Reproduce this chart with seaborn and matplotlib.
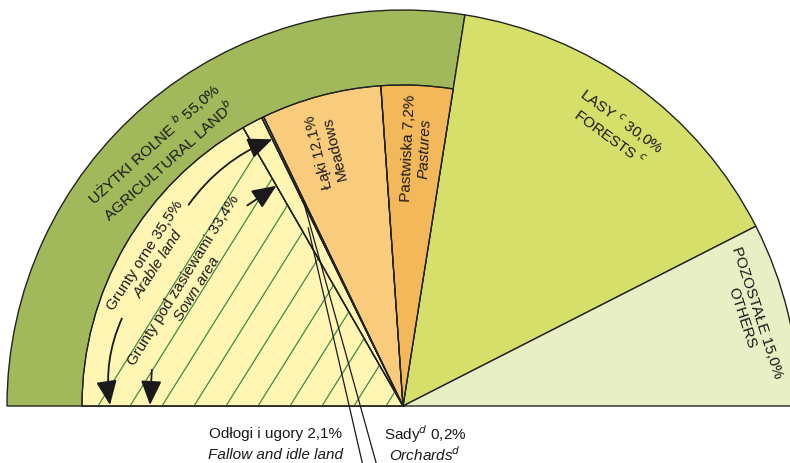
import matplotlib
matplotlib.use('Agg')
import matplotlib.pyplot as plt
import numpy as np
import seaborn as sns

# land use, % of total area (half-pie = 100%)
main_pl = ['UŻYTKI ROLNE', 'LASY', 'POZOSTAŁE']
main_en = ['AGRICULTURAL LAND', 'FORESTS', 'OTHERS']
main_notes = ['b', 'c', '']
main_values = [55.0, 30.0, 15.0]

# breakdown of agricultural land
agri_pl = ['Grunty pod zasiewami', 'Odłogi i ugory', 'Sady', 'Łąki', 'Pastwiska']
agri_en = ['Sown area', 'Fallow and idle land', 'Orchards', 'Meadows', 'Pastures']
agri_notes = ['', '', 'd', '', '']
agri_values = [33.4, 2.1, 0.2, 12.1, 7.2]
arable_pl = 'Grunty orne'
arable_en = 'Arable land'
arable_value = 35.5

main_colors = ['#a2b95b', '#d5df6a', '#e9efc4']
agri_colors = ['#fff6b4', '#fff6b4', '#fff6b4', '#f8cb7d', '#f2b859']

sns.set_style('white')
FONT = ['Liberation Sans Narrow', 'Liberation Sans', 'DejaVu Sans']
plt.rcParams['font.family'] = FONT
plt.rcParams['mathtext.fontset'] = 'custom'
plt.rcParams['mathtext.it'] = 'Liberation Sans Narrow:italic'
plt.rcParams['mathtext.rm'] = 'Liberation Sans Narrow'

R = 396
r = 321
fs = 11

def pct(v):
    return ('%.1f%%' % v).replace('.', ',')

def pol(ang, rad):
    a = np.radians(ang)
    return rad*np.cos(a), rad*np.sin(a)

fig = plt.figure(figsize=(7.9, 4.64), dpi=100)
ax = fig.add_axes([0, 0, 1, 1])

# outer half ring
w1, _ = ax.pie(main_values + [sum(main_values)], radius=R, startangle=180,
               counterclock=False, colors=main_colors + ['none'],
               wedgeprops=dict(edgecolor='#222222', linewidth=1.0))
w1[-1].set_visible(False)

# inner breakdown of agricultural land
rest = 2*sum(main_values) - sum(agri_values)
w2, _ = ax.pie(agri_values + [rest], radius=r, startangle=180,
               counterclock=False, colors=agri_colors + ['none'],
               wedgeprops=dict(edgecolor='#222222', linewidth=0.9))
w2[-1].set_visible(False)
for w in w1 + w2:
    w.set_zorder(1)

# hatching of the sown area
sown = w2[0]
tan = np.tan(np.radians(58))
for x0 in np.arange(-305, 0, 32):
    ln, = ax.plot([x0, x0 + R/tan], [0, R], color='#3d8c45', lw=0.9, zorder=2)
    ln.set_clip_path(sown)
# redraw edges above hatch
for w in w2[:-1]:
    ax.add_patch(matplotlib.patches.Wedge(w.center, w.r, w.theta1, w.theta2,
                 facecolor='none', edgecolor='#222222', lw=0.9, zorder=3))

ax.set_xlim(-403, 387)
ax.set_ylim(-57, 407)
ax.set_aspect('equal')
ax.axis('off')

tk = dict(fontsize=fs, color='#1a1a1a', ha='center', va='center',
          rotation_mode='anchor', multialignment='center', zorder=5)

def sup(n):
    return r'$^{%s}$' % n if n else ''

# outer labels
x, y = pol(133.5, 352)
ax.text(x, y, main_pl[0] + ' ' + sup(main_notes[0]) + ' ' + pct(main_values[0]) + '\n'
        + main_en[0] + sup(main_notes[0]), rotation=42, **tk)
x, y = pol(52.5, 350)
ax.text(x, y, main_pl[1] + ' ' + sup(main_notes[1]) + ' ' + pct(main_values[1]) + '\n'
        + main_en[1] + ' ' + sup(main_notes[1]), rotation=-36, **tk)
x, y = pol(14.8, 358)
ax.text(x, y, main_pl[2] + ' ' + pct(main_values[2]) + '\n' + main_en[2],
        rotation=-72, **tk)

# meadows and pastures
for i, (ang, rad, rot) in zip([3, 4], [(106.5, 268, 104), (87.0, 259, 87.5)]):
    x, y = pol(ang, rad)
    ax.text(x, y, agri_pl[i] + ' ' + pct(agri_values[i]) + '\n', rotation=rot, **tk)
    ax.text(x, y, '\n' + agri_en[i], rotation=rot, style='italic' if i == 4 else 'normal', **tk)

# arable and sown labels
ax.text(-251, 147, arable_pl + ' ' + pct(arable_value) + '\n', rotation=57, **tk)
ax.text(-251, 147, '\n' + arable_en, rotation=57, style='italic', **tk)
ax.text(-213, 122, agri_pl[0] + ' ' + pct(agri_values[0]) + '\n', rotation=58, **tk)
ax.text(-213, 122, '\n' + agri_en[0], rotation=58, style='italic', **tk)

# arrows showing extent of arable land and sown area
ap = dict(arrowstyle='-|>,head_length=0.75,head_width=0.32', color='#1a1a1a',
          lw=1.3, mutation_scale=20, shrinkA=2, shrinkB=0)
ax.annotate('', xy=pol(w2[1].theta1, 297), xytext=(-216, 199),
            arrowprops=dict(connectionstyle='arc3,rad=-0.15', **ap))
ax.annotate('', xy=pol(w2[0].theta1, 254), xytext=(-158, 199),
            arrowprops=dict(connectionstyle='arc3,rad=0', **ap))
ax.annotate('', xy=(-293, 1), xytext=(-280, 90),
            arrowprops=dict(connectionstyle='arc3,rad=0.15', **ap))
ax.annotate('', xy=(-253, 1), xytext=(-251, 39),
            arrowprops=dict(connectionstyle='arc3,rad=0', **ap))

# fallow and orchards: leader lines to labels below
lp = dict(arrowstyle='-', color='#1a1a1a', lw=0.9, shrinkA=0, shrinkB=0)
ax.annotate('', xy=pol((w2[1].theta1 + w2[1].theta2)/2, 202), xytext=(-40, -60),
            arrowprops=lp, annotation_clip=False)
ax.annotate('', xy=pol((w2[2].theta1 + w2[2].theta2)/2, 228), xytext=(-26, -60),
            arrowprops=lp, annotation_clip=False)
ax.text(-128, -27, agri_pl[1] + ' ' + pct(agri_values[1]), fontsize=fs,
        ha='center', va='center', color='#1a1a1a')
ax.text(-128, -48, agri_en[1], fontsize=fs, style='italic',
        ha='center', va='center', color='#1a1a1a')
ax.text(22, -27, agri_pl[2] + sup(agri_notes[2]) + ' ' + pct(agri_values[2]), fontsize=fs,
        ha='center', va='center', color='#1a1a1a')
ax.text(22, -48, agri_en[2] + sup(agri_notes[2]), fontsize=fs, style='italic',
        ha='center', va='center', color='#1a1a1a')

fig.savefig('out.png', dpi=100)
